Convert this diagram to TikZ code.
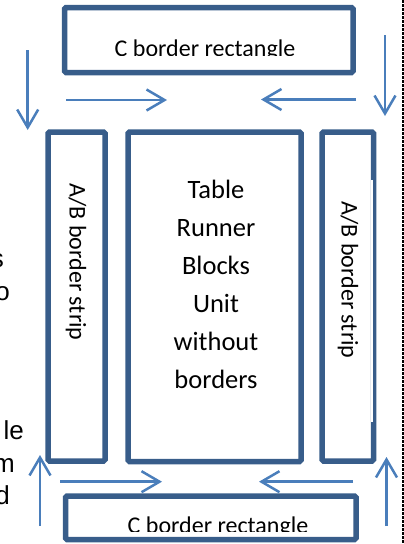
\documentclass[tikz,border=0pt]{standalone}
\usepackage{fontspec}
\setmainfont{Carlito}
\newfontfamily\arialfont{Liberation Sans}
\usetikzlibrary{arrows.meta}
\definecolor{boxline}{HTML}{385D8A}
\definecolor{arrowline}{HTML}{4A7EBB}
\tikzset{
  panel/.style={draw=boxline, line width=5.5pt, rounded corners=1.5pt, fill=white,
    inner sep=0pt, outer sep=0pt},
  lbl/.style={font=\fontsize{24}{38}\selectfont, inner sep=0pt, text=black},
  unitlbl/.style={font=\fontsize{26.5}{38}\selectfont, inner sep=0pt, text=black},
  sidetext/.style={font=\arialfont\fontsize{26}{33}\selectfont, inner sep=0pt, anchor=base east, text=black},
  flow/.style={draw=arrowline, line width=2.5pt,
    -{Straight Barb[length=18pt, width=21pt, line width=2.5pt]}},
}
\begin{document}
\begin{tikzpicture}[x=1pt, y=-1pt]
\useasboundingbox (0,0) rectangle (404,544);
\begin{scope}
\clip (0,0) rectangle (404,544);

% fragments of the page text at the left edge
\node[sidetext] (fs) at (4,267) {s};
\node[sidetext] (fo) at (10,300) {o};
\node[sidetext] (fle) at (24,439) {le};
\node[sidetext] (fm) at (15,472) {m};
\node[sidetext] (fd) at (10,504) {d};

% border pieces
\node[panel, minimum width=288.5pt, minimum height=65pt] (ctop) at (208.75,40) {};
\node[panel, minimum width=57pt, minimum height=329pt] (lstrip) at (76.5,296.5) {};
\node[panel, minimum width=173pt, minimum height=329.5pt] (unit) at (214.5,296.75) {};
\node[panel, minimum width=51.5pt, minimum height=329pt] (rstrip) at (347.75,296.5) {};
\fill[white] (370.6,180) rectangle (373.2,422);
\node[panel, minimum width=290.5pt, minimum height=43.5pt] (cbot) at (210.75,517.75) {};

% labels
\begin{scope}
\clip (62,0) rectangle (357,55.5);
\node[lbl, anchor=base] (ctoptext) at (205,56) {C border rectangle};
\end{scope}
\begin{scope}
\clip (62,480) rectangle (357,531);
\node[lbl, anchor=base] (cbottext) at (218,533.5) {C border rectangle};
\end{scope}
\node[lbl, rotate=-90] (ltext) at (76,262) {A/B border strip};
\node[lbl, rotate=-90] (rtext) at (348,280) {A/B border strip};
\node[unitlbl, align=center] (unittext) at (216,284) {Table\\Runner\\Blocks\\Unit\\without\\borders};

% arrows showing where each border piece goes
\coordinate (a1s) at (27.7,50);   \coordinate (a1e) at (27.7,130);
\coordinate (a2s) at (66,100);    \coordinate (a2e) at (167,100);
\coordinate (a3s) at (356,99.5);  \coordinate (a3e) at (261,99.5);
\coordinate (a4s) at (385,35);    \coordinate (a4e) at (385,116);
\coordinate (a5s) at (40,526);    \coordinate (a5e) at (40,455);
\coordinate (a6s) at (60,481.7);  \coordinate (a6e) at (162,481.7);
\coordinate (a7s) at (353,481.7); \coordinate (a7e) at (259,481.7);
\coordinate (a8s) at (386.5,526); \coordinate (a8e) at (386.5,457);
\foreach \i in {1,...,8} { \draw[flow] (a\i s) -- (a\i e); }

% dashed page edge
\coordinate (edgetop) at (402.5,0);
\coordinate (edgebot) at (402.5,544);
\draw[black, line width=2pt, dash pattern=on 3pt off 1pt] (edgetop) -- (edgebot);
\end{scope}
\end{tikzpicture}
\end{document}
